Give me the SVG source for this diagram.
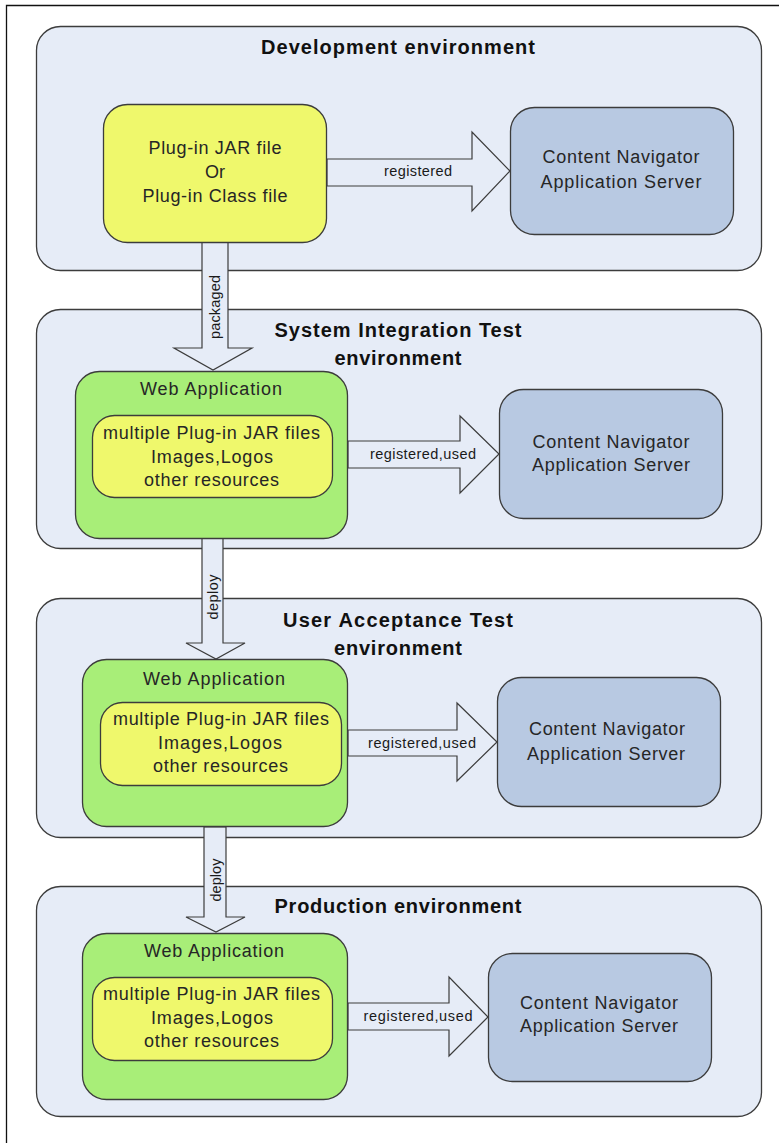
<svg xmlns="http://www.w3.org/2000/svg" width="779" height="1143" viewBox="0 0 779 1143">
<style>
.env{fill:#E6ECF7;stroke:#3c3c3c;stroke-width:1.3}
.yel{fill:#EFF86C;stroke:#3c3c3c;stroke-width:1.3}
.grn{fill:#A8EE78;stroke:#3c3c3c;stroke-width:1.3}
.blu{fill:#B8C9E2;stroke:#3c3c3c;stroke-width:1.3}
.arr{fill:#E6ECF7;stroke:#3c3c3c;stroke-width:1.2;stroke-linejoin:miter}
.t{font-family:"Liberation Sans",Arial,sans-serif;font-size:18px;fill:#262626;text-anchor:middle}
.h{font-family:"Liberation Sans",Arial,sans-serif;font-size:20px;font-weight:bold;fill:#111;text-anchor:middle}
.l{font-family:"Liberation Sans",Arial,sans-serif;font-size:14.5px;fill:#1a1a1a;text-anchor:middle}
</style>
<rect width="779" height="1143" fill="#fff"/>
<path d="M6.5,1143 V5.5 H779" fill="none" stroke="#111" stroke-width="1.3"/>

<g id="env-dev">
<rect class="env" x="36.5" y="26.5" width="725" height="244" rx="24"/>
<text class="h" x="398" y="54" textLength="274" lengthAdjust="spacing">Development environment</text>
</g>
<g id="env-sit">
<rect class="env" x="36.5" y="309.5" width="725" height="239" rx="24"/>
<text class="h" x="398" y="337" textLength="247" lengthAdjust="spacing">System Integration Test</text>
<text class="h" x="398" y="365" textLength="127" lengthAdjust="spacing">environment</text>
</g>
<g id="env-uat">
<rect class="env" x="36.5" y="598.5" width="725" height="239" rx="24"/>
<text class="h" x="398" y="627" textLength="230" lengthAdjust="spacing">User Acceptance Test</text>
<text class="h" x="398" y="655" textLength="128" lengthAdjust="spacing">environment</text>
</g>
<g id="env-prod">
<rect class="env" x="36.5" y="886.5" width="725" height="230" rx="24"/>
<text class="h" x="398" y="913" textLength="247" lengthAdjust="spacing">Production environment</text>
</g>

<g id="connectors">
<polygon class="arr" points="327,159 472,159 472,132 510,171 472,211 472,186 327,186"/>
<text class="l" x="418" y="176" textLength="68" lengthAdjust="spacing">registered</text>
<polygon class="arr" points="202,242 228,242 228,348 252,348 213,370 174,348 202,348"/>
<text class="l" transform="translate(220,307) rotate(-90)" textLength="64" lengthAdjust="spacing">packaged</text>
<polygon class="arr" points="348,441 460,441 460,416 499,454 460,493 460,468 348,468"/>
<text class="l" x="423" y="459" textLength="106" lengthAdjust="spacing">registered,used</text>
<polygon class="arr" points="202,538 223,538 223,643 245,643 216,659 186,643 202,643"/>
<text class="l" transform="translate(217.5,597) rotate(-90)" textLength="45" lengthAdjust="spacing">deploy</text>
<polygon class="arr" points="348,730 457,730 457,703 497,742 457,781 457,756 348,756"/>
<text class="l" x="422" y="748" textLength="108" lengthAdjust="spacing">registered,used</text>
<polygon class="arr" points="204,827 226,827 226,917 245,917 216,932 186,917 204,917"/>
<text class="l" transform="translate(220.5,880) rotate(-90)" textLength="43" lengthAdjust="spacing">deploy</text>
<polygon class="arr" points="348,1003 449,1003 449,977 488,1017 449,1056 449,1030 348,1030"/>
<text class="l" x="418" y="1021" textLength="109" lengthAdjust="spacing">registered,used</text>
</g>

<g id="dev-plugin">
<rect class="yel" x="103.5" y="104.5" width="223" height="138" rx="24"/>
<text class="t" x="215" y="154" textLength="133" lengthAdjust="spacing">Plug-in JAR file</text>
<text class="t" x="215" y="178">Or</text>
<text class="t" x="215" y="202" textLength="145" lengthAdjust="spacing">Plug-in Class file</text>
</g>
<g id="dev-server">
<rect class="blu" x="510.5" y="107.5" width="223" height="127" rx="24"/>
<text class="t" x="621" y="163" textLength="157" lengthAdjust="spacing">Content Navigator</text>
<text class="t" x="621" y="188" textLength="161" lengthAdjust="spacing">Application Server</text>
</g>

<g id="sit-webapp">
<rect class="grn" x="75.5" y="371.5" width="272" height="167" rx="24"/>
<text class="t" x="211" y="395" textLength="142" lengthAdjust="spacing">Web Application</text>
<rect class="yel" x="92.5" y="415.5" width="240" height="82" rx="22"/>
<text class="t" x="211.5" y="439" textLength="217" lengthAdjust="spacing">multiple Plug-in JAR files</text>
<text class="t" x="212" y="463" textLength="122" lengthAdjust="spacing">Images,Logos</text>
<text class="t" x="211.5" y="486" textLength="135" lengthAdjust="spacing">other resources</text>
</g>
<g id="sit-server">
<rect class="blu" x="499.5" y="389.5" width="223" height="129" rx="24"/>
<text class="t" x="611" y="448" textLength="157" lengthAdjust="spacing">Content Navigator</text>
<text class="t" x="611" y="471" textLength="158" lengthAdjust="spacing">Application Server</text>
</g>

<g id="uat-webapp">
<rect class="grn" x="82.5" y="659.5" width="265" height="167" rx="24"/>
<text class="t" x="214" y="685" textLength="142" lengthAdjust="spacing">Web Application</text>
<rect class="yel" x="100.5" y="702.5" width="241" height="83" rx="22"/>
<text class="t" x="221" y="725" textLength="216" lengthAdjust="spacing">multiple Plug-in JAR files</text>
<text class="t" x="220" y="749" textLength="124" lengthAdjust="spacing">Images,Logos</text>
<text class="t" x="220.5" y="772" textLength="135" lengthAdjust="spacing">other resources</text>
</g>
<g id="uat-server">
<rect class="blu" x="497.5" y="677.5" width="223" height="129" rx="24"/>
<text class="t" x="607" y="735" textLength="156" lengthAdjust="spacing">Content Navigator</text>
<text class="t" x="606" y="760" textLength="158" lengthAdjust="spacing">Application Server</text>
</g>

<g id="prod-webapp">
<rect class="grn" x="82.5" y="933.5" width="265" height="166" rx="24"/>
<text class="t" x="214" y="957" textLength="140" lengthAdjust="spacing">Web Application</text>
<rect class="yel" x="92.5" y="977.5" width="240" height="83" rx="22"/>
<text class="t" x="211.5" y="1000" textLength="217" lengthAdjust="spacing">multiple Plug-in JAR files</text>
<text class="t" x="212" y="1024" textLength="122" lengthAdjust="spacing">Images,Logos</text>
<text class="t" x="211.5" y="1047" textLength="135" lengthAdjust="spacing">other resources</text>
</g>
<g id="prod-server">
<rect class="blu" x="488.5" y="953.5" width="223" height="128" rx="24"/>
<text class="t" x="599" y="1009" textLength="158" lengthAdjust="spacing">Content Navigator</text>
<text class="t" x="599" y="1032" textLength="158" lengthAdjust="spacing">Application Server</text>
</g>
</svg>
